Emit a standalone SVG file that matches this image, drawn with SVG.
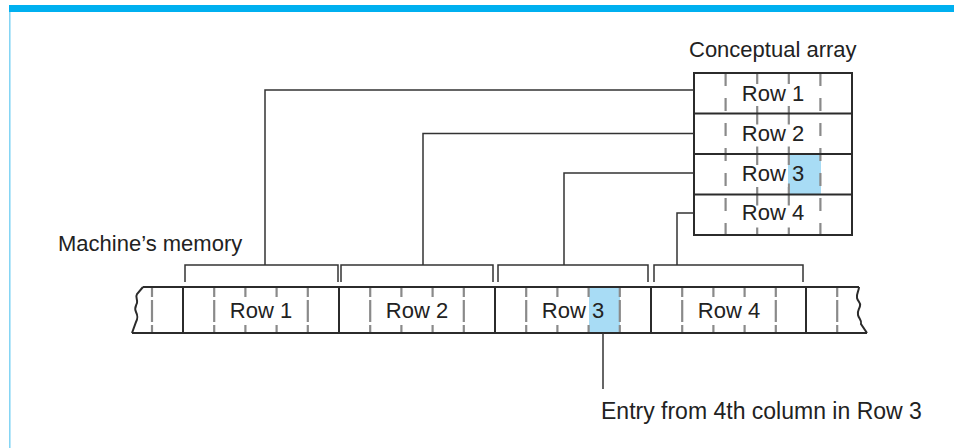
<svg xmlns="http://www.w3.org/2000/svg" width="954" height="448" viewBox="0 0 954 448">
<style>
  .frame{fill:#00b0f0;}
  .edge{stroke:#7fd3f4;stroke-width:1.5;fill:none;}
  .box{fill:none;stroke:#2b2b2b;stroke-width:2;}
  .solid{stroke:#2b2b2b;stroke-width:2;fill:none;}
  .conn{stroke:#333;stroke-width:1.5;fill:none;}
  .dashm{stroke:#8a8a8a;stroke-width:2.2;fill:none;stroke-dasharray:10 3 22 3 8;}
  .dashm2{stroke:#8a8a8a;stroke-width:2.2;fill:none;stroke-dasharray:10 28 8;}
  .dasha{stroke:#8a8a8a;stroke-width:2.2;fill:none;stroke-dasharray:13 12;}
  .dashb{stroke:#8a8a8a;stroke-width:2.2;fill:none;stroke-dasharray:22 18.5;stroke-dashoffset:11;}
  .ko{fill:#fff;}
  .hl{fill:#a8dcf5;}
  text{font-family:"Liberation Sans",Arial,Helvetica,sans-serif;font-size:22px;fill:#222;}
  .c{text-anchor:middle;}
</style>
<rect width="954" height="448" fill="#fff"/>
<rect class="frame" x="9" y="5" width="945" height="7"/>
<line class="edge" x1="9.8" y1="12" x2="9.8" y2="448"/>

<text x="58" y="251">Machine’s memory</text>
<text x="689" y="57">Conceptual array</text>
<text x="601" y="419" style="font-size:23px">Entry from 4th column in Row 3</text>

<g id="conceptual-array">
  <rect class="hl" x="788" y="154" width="33" height="40.5"/>
  <line class="dasha" x1="725.6" y1="73" x2="725.6" y2="235"/>
  <line class="dashb" x1="757.2" y1="73" x2="757.2" y2="235"/>
  <line class="dashb" x1="788.8" y1="73" x2="788.8" y2="235"/>
  <line class="dasha" x1="820.4" y1="73" x2="820.4" y2="235"/>
  <rect class="ko" x="742" y="85" width="64" height="21"/>
  <rect class="ko" x="742" y="125.5" width="64" height="21"/>
  <rect class="ko" x="742" y="166" width="45.6" height="21"/>
  <rect class="ko" x="742" y="206.5" width="64" height="21"/>
  <rect class="box" x="694" y="73" width="158" height="162"/>
  <line class="solid" x1="694" y1="113.5" x2="852" y2="113.5"/>
  <line class="solid" x1="694" y1="154" x2="852" y2="154"/>
  <line class="solid" x1="694" y1="194.5" x2="852" y2="194.5"/>
  <text class="c" x="773" y="101">Row 1</text>
  <text class="c" x="773" y="141">Row 2</text>
  <text class="c" x="773" y="181">Row 3</text>
  <text class="c" x="773" y="220">Row 4</text>
</g>

<g id="memory">
  <rect class="hl" x="589" y="287" width="31" height="46"/>
  <line class="dashm" x1="152" y1="287" x2="152" y2="333"/>
  <line class="dashm" x1="214.2" y1="287" x2="214.2" y2="333"/>
  <line class="dashm" x1="245.4" y1="287" x2="245.4" y2="333"/>
  <line class="dashm" x1="276.6" y1="287" x2="276.6" y2="333"/>
  <line class="dashm" x1="307.8" y1="287" x2="307.8" y2="333"/>
  <line class="dashm" x1="370.2" y1="287" x2="370.2" y2="333"/>
  <line class="dashm" x1="401.4" y1="287" x2="401.4" y2="333"/>
  <line class="dashm" x1="432.6" y1="287" x2="432.6" y2="333"/>
  <line class="dashm" x1="463.8" y1="287" x2="463.8" y2="333"/>
  <line class="dashm" x1="526.2" y1="287" x2="526.2" y2="333"/>
  <line class="dashm" x1="557.4" y1="287" x2="557.4" y2="333"/>
  <line class="dashm" x1="619.8" y1="287" x2="619.8" y2="333"/>
  <line class="dashm" x1="682.2" y1="287" x2="682.2" y2="333"/>
  <line class="dashm" x1="713.4" y1="287" x2="713.4" y2="333"/>
  <line class="dashm" x1="744.6" y1="287" x2="744.6" y2="333"/>
  <line class="dashm" x1="775.8" y1="287" x2="775.8" y2="333"/>
  <line class="dashm" x1="837.2" y1="287" x2="837.2" y2="333"/>
  <rect class="ko" x="228" y="297" width="66" height="27"/>
  <rect class="ko" x="384" y="297" width="66" height="27"/>
  <rect class="ko" x="540" y="297" width="47.5" height="27"/>
  <rect class="ko" x="696" y="297" width="66" height="27"/>
  <line class="dashm2" x1="588.6" y1="287" x2="588.6" y2="333"/>
  <line class="solid" x1="143" y1="287" x2="859" y2="287"/>
  <line class="solid" x1="132" y1="333" x2="867" y2="333"/>
  <path class="solid" d="M143,287 L137,294 C135,297 138,300 137,303 S134,308 136,312 S138,318 136,322 L132,333"/>
  <path class="solid" d="M859,287 C859,291 856,294 857,298 S861,302 860,306 S857,311 858,315 S862,320 861,324 L867,333"/>
  <line class="solid" x1="183" y1="287" x2="183" y2="333"/>
  <line class="solid" x1="339" y1="287" x2="339" y2="333"/>
  <line class="solid" x1="495" y1="287" x2="495" y2="333"/>
  <line class="solid" x1="651" y1="287" x2="651" y2="333"/>
  <line class="solid" x1="806" y1="287" x2="806" y2="333"/>
  <text class="c" x="261" y="318">Row 1</text>
  <text class="c" x="417" y="318">Row 2</text>
  <text class="c" x="573" y="318">Row 3</text>
  <text class="c" x="729" y="318">Row 4</text>
</g>

<g id="connectors">
  <path class="conn" d="M185,282 V265 H338 V282"/>
  <path class="conn" d="M341,282 V265 H493 V282"/>
  <path class="conn" d="M498,282 V265 H648 V282"/>
  <path class="conn" d="M654,282 V265 H803 V282"/>
  <path class="conn" d="M265,265 V90 H694"/>
  <path class="conn" d="M423,265 V133.5 H694"/>
  <path class="conn" d="M564,265 V173 H694"/>
  <path class="conn" d="M677,265 V213 H694"/>
  <path class="conn" d="M603,333 V389"/>
</g>
</svg>
